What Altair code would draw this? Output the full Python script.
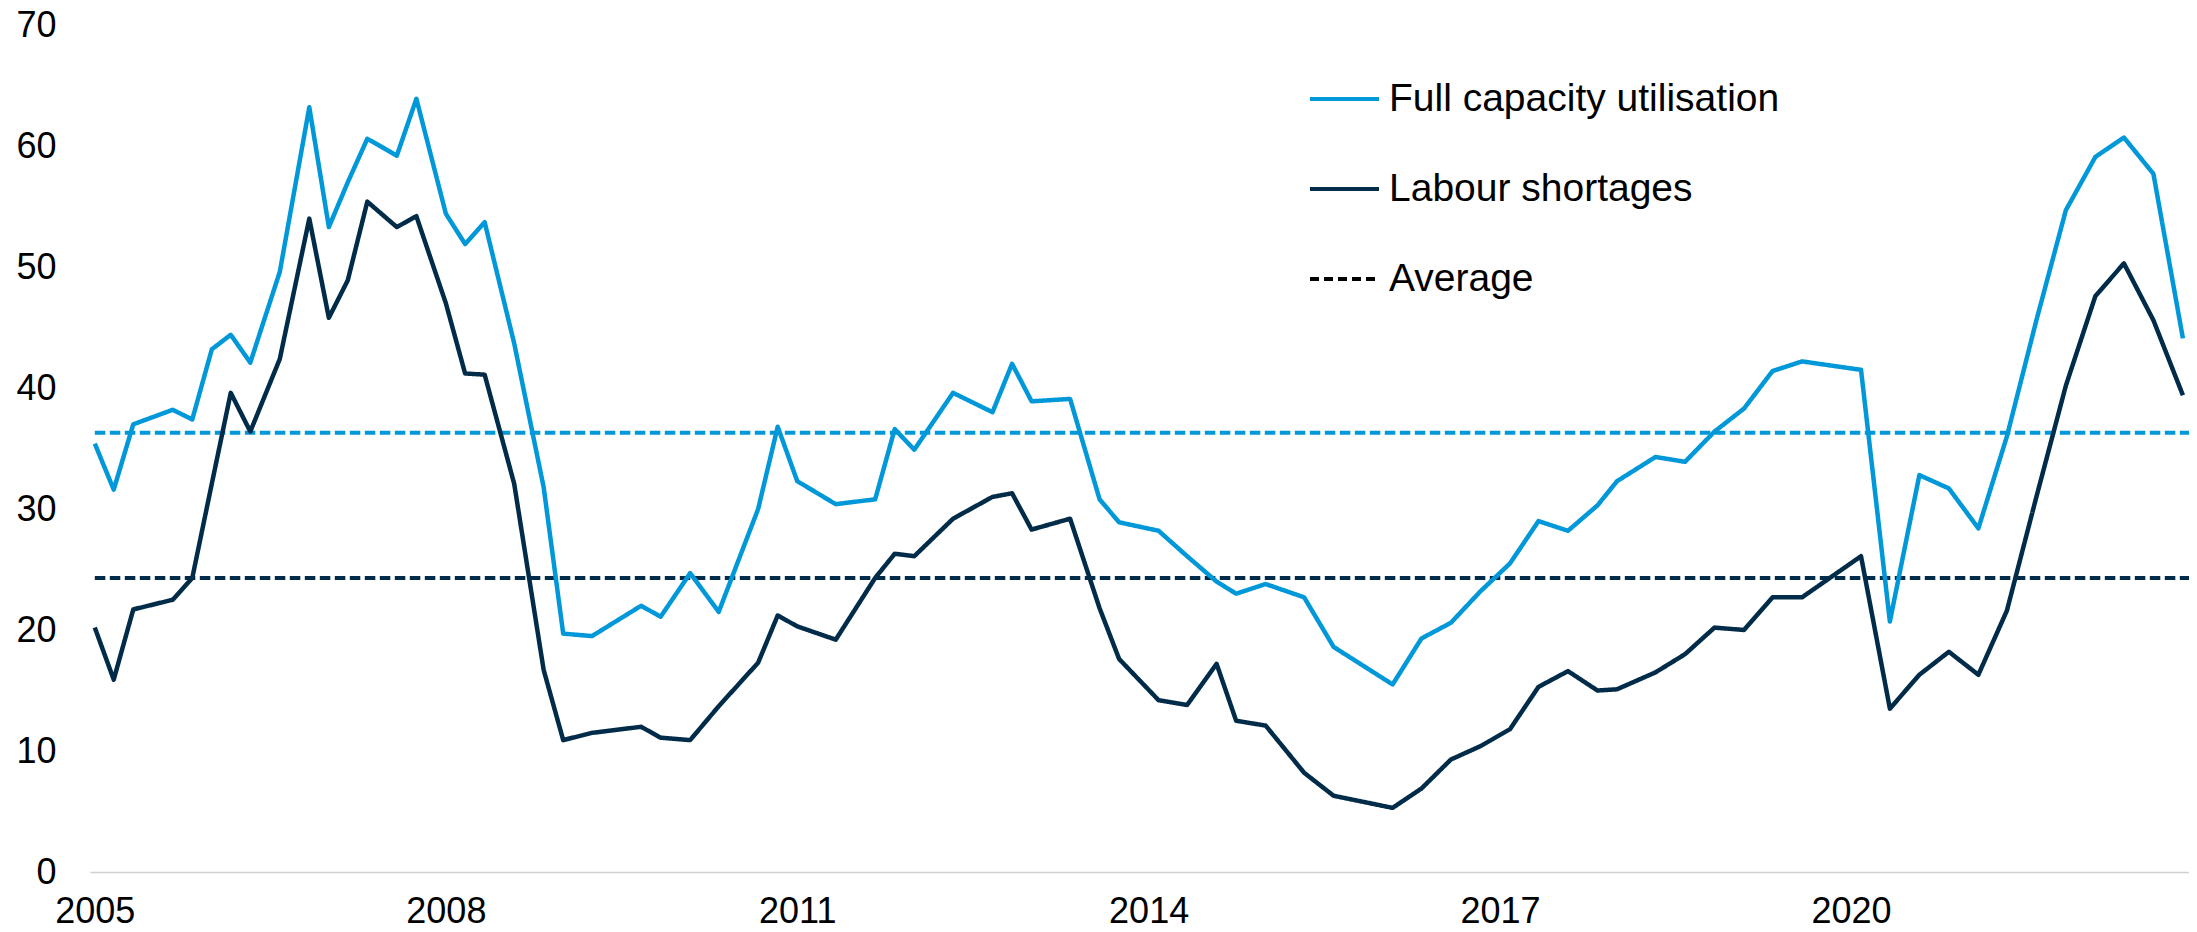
import altair as alt
import pandas as pd

# ---- data ----
dates = [
    "2005-01", "2005-03", "2005-05", "2005-09", "2005-11", "2006-01", "2006-03", "2006-05",
    "2006-08", "2006-11", "2007-01", "2007-03", "2007-05", "2007-08", "2007-10", "2008-01",
    "2008-03", "2008-05", "2008-08", "2008-11", "2009-01", "2009-04", "2009-09", "2009-11",
    "2010-02", "2010-05", "2010-09", "2010-11", "2011-01", "2011-05", "2011-09", "2011-11",
    "2012-01", "2012-05", "2012-09", "2012-11", "2013-01", "2013-05", "2013-08", "2013-10",
    "2014-02", "2014-05", "2014-08", "2014-10", "2015-01", "2015-05", "2015-08", "2016-02",
    "2016-05", "2016-08", "2016-11", "2017-02", "2017-05", "2017-08", "2017-11", "2018-01",
    "2018-05", "2018-08", "2018-11", "2019-02", "2019-05", "2019-08", "2020-02", "2020-05",
    "2020-08", "2020-11", "2021-02", "2021-05", "2021-08", "2021-11", "2022-02", "2022-05",
    "2022-08", "2022-11",
]
full_capacity = [
    35.4, 31.6, 37.0, 38.2, 37.4, 43.2, 44.4, 42.1,
    49.6, 63.2, 53.3, 57.0, 60.6, 59.2, 63.9, 54.4,
    51.9, 53.7, 43.7, 31.8, 19.7, 19.5, 22.0, 21.1,
    24.7, 21.5, 30.0, 36.8, 32.3, 30.4, 30.8, 36.6,
    34.9, 39.6, 38.0, 42.0, 38.9, 39.1, 30.8, 28.9,
    28.2, 26.1, 24.0, 23.0, 23.8, 22.7, 18.6, 15.5,
    19.3, 20.6, 23.2, 25.5, 29.0, 28.2, 30.3, 32.3,
    34.3, 33.9, 36.4, 38.3, 41.4, 42.2, 41.5, 20.7,
    32.8, 31.7, 28.4, 36.0, 45.6, 54.7, 59.1, 60.7,
    57.7, 44.1,
]
labour_shortages = [
    20.2, 15.9, 21.7, 22.5, 24.3, 32.1, 39.6, 36.4,
    42.4, 54.0, 45.8, 48.9, 55.4, 53.3, 54.2, 47.0,
    41.2, 41.1, 32.1, 16.7, 10.9, 11.5, 12.0, 11.1,
    10.9, 13.7, 17.3, 21.2, 20.3, 19.2, 24.3, 26.3,
    26.1, 29.2, 31.0, 31.3, 28.3, 29.2, 21.8, 17.6,
    14.2, 13.8, 17.2, 12.5, 12.1, 8.2, 6.3, 5.3,
    6.9, 9.3, 10.4, 11.8, 15.3, 16.6, 15.0, 15.1,
    16.5, 18.0, 20.2, 20.0, 22.7, 22.7, 26.1, 13.5,
    16.3, 18.2, 16.3, 21.6, 31.0, 40.2, 47.6, 50.3,
    45.6, 39.4,
]
series_names = ["Full capacity utilisation", "Labour shortages", "Average"]
series_colors = ["#0098D8", "#002B49", "#000000"]
average_values = [36.3, 24.3]
average_start = "2005-01"
average_end = "2022-12"
year_ticks = [2005, 2008, 2011, 2014, 2017, 2020]
y_ticks = [0, 10, 20, 30, 40, 50, 60, 70]

# ---- tables ----
n = len(dates)
lines_df = pd.DataFrame({
    "date": [d + "-01" for d in dates] * 2,
    "value": full_capacity + labour_shortages,
    "series": [series_names[0]] * n + [series_names[1]] * n,
})
avg_full_df = pd.DataFrame({"start": [average_start + "-01"], "end": [average_end + "-01"],
                            "value": [average_values[0]]})
avg_lab_df = pd.DataFrame({"start": [average_start + "-01"], "end": [average_end + "-01"],
                           "value": [average_values[1]]})

FONT = "Liberation Sans"
x_scale = alt.Scale(type="utc", domain=[alt.DateTime(year=2004, month=12, date=17, utc=True),
                                        alt.DateTime(year=2022, month=11, date=20, utc=True)])
y_scale = alt.Scale(domain=[0, 70], nice=False, zero=True)

x_axis = alt.Axis(title=None, values=[alt.DateTime(year=y, month=1, date=1, utc=True) for y in year_ticks],
                  format="%Y", grid=False, ticks=False, tickSize=0, labelPadding=22,
                  domainColor="#D0D0D0", domainWidth=1.5, labelFontSize=36, labelFont=FONT,
                  labelColor="#000000", labelFlush=False, labelOverlap=False)
y_axis = alt.Axis(title=None, values=y_ticks, grid=False, ticks=False, tickSize=0, domain=False,
                  labelPadding=34, labelFontSize=36, labelFont=FONT, labelColor="#000000")

legend = alt.Legend(title=None, orient="none", legendX=1218, legendY=54, symbolType="stroke",
                    symbolSize=69 * 69, symbolStrokeWidth=4, labelFontSize=39, labelFont=FONT,
                    labelColor="#000000", labelOffset=8, rowPadding=50, clipHeight=40, padding=0,
                    labelLimit=600)

lines = alt.Chart(lines_df).mark_line(strokeWidth=4.5, strokeJoin="round").encode(
    x=alt.X("date:T", scale=x_scale, axis=x_axis),
    y=alt.Y("value:Q", scale=y_scale, axis=y_axis),
    color=alt.Color("series:N", scale=alt.Scale(domain=series_names, range=series_colors), legend=legend),
    strokeDash=alt.StrokeDash("series:N", scale=alt.Scale(domain=series_names,
                                                            range=[[1, 0], [1, 0], [9, 5]]), legend=legend),
)

avg_full = alt.Chart(avg_full_df).mark_rule(strokeWidth=4, strokeDash=[10.5, 4.5]).encode(
    x=alt.X("start:T", scale=x_scale), x2="end:T", y=alt.Y("value:Q", scale=y_scale),
    color=alt.value(series_colors[0]),
)
avg_lab = alt.Chart(avg_lab_df).mark_rule(strokeWidth=4, strokeDash=[10.5, 4.5]).encode(
    x=alt.X("start:T", scale=x_scale), x2="end:T", y=alt.Y("value:Q", scale=y_scale),
    color=alt.value(series_colors[1]),
)

chart = alt.layer(avg_full, avg_lab, lines).properties(
    width=2099, height=847,
    autosize=alt.AutoSizeParams(type="none"),
    padding={"left": 82, "top": 17, "right": 0, "bottom": 52},
    background="white",
).configure_view(stroke=None)

chart.save("out.html", embed_options={"renderer": "svg", "actions": False})
